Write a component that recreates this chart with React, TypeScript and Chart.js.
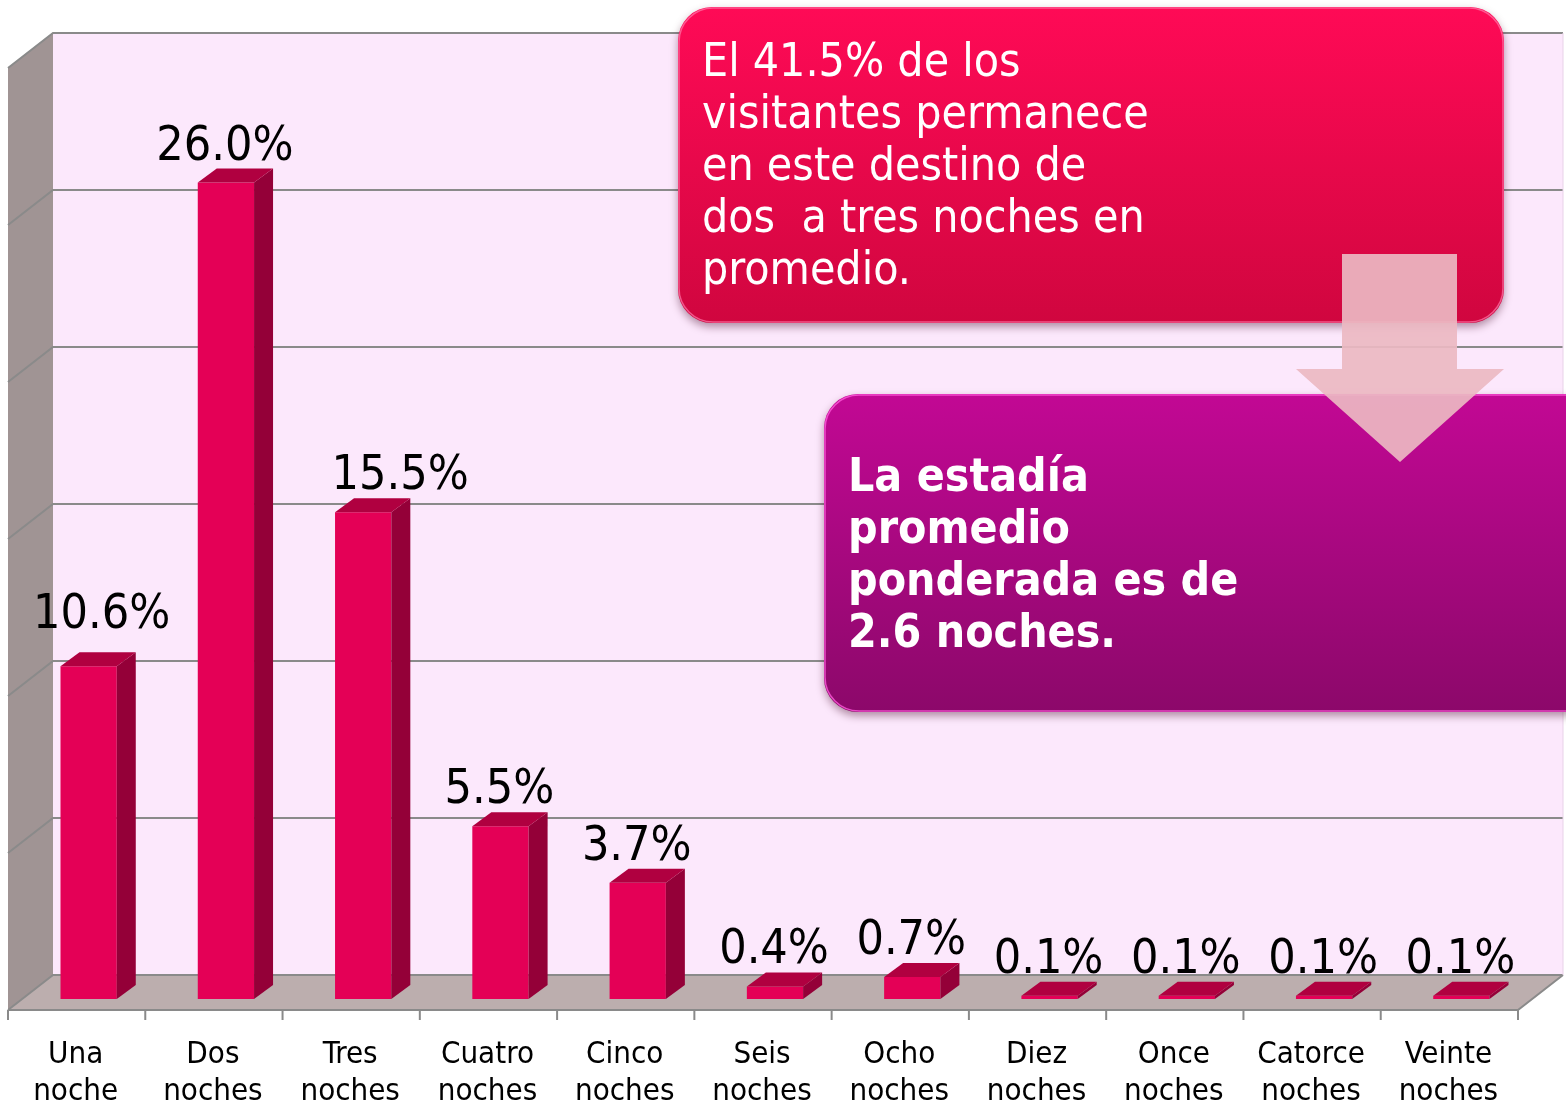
import { useEffect, useRef } from "react";
import { Chart, registerables } from "chart.js";

Chart.register(...registerables);

// ---- data ----
const categories: string[][] = [
  ["Una", "noche"],
  ["Dos", "noches"],
  ["Tres", "noches"],
  ["Cuatro", "noches"],
  ["Cinco", "noches"],
  ["Seis", "noches"],
  ["Ocho", "noches"],
  ["Diez", "noches"],
  ["Once", "noches"],
  ["Catorce", "noches"],
  ["Veinte", "noches"],
];
const shares = [10.6, 26.0, 15.5, 5.5, 3.7, 0.4, 0.7, 0.1, 0.1, 0.1, 0.1];
const gridValues = [0, 5, 10, 15, 20, 25, 30];
const callout1Lines = [
  "El 41.5% de los",
  "visitantes permanece",
  "en este destino de",
  "dos  a tres noches en",
  "promedio.",
];
const callout2Lines = ["La estadía", "promedio", "ponderada es de", "2.6 noches."];

// ---- styling / geometry (not data) ----
const FONT = "'DejaVu Sans Condensed', 'DejaVu Sans', sans-serif";
const BACK = { dx: 33, dy: -24 };
const FRONT = { dx: -12, dy: 11 };
const BAR_D = { dx: 19, dy: -14 };
const LABEL_NUDGE: number[][] = [
  [14, -15], [0, 0], [38, 0], [0, 0], [0, 0], [0, 0], [0, 0], [0, 0], [0, 0], [0, 0], [0, 0],
];

function poly(ctx: CanvasRenderingContext2D, pts: number[][], fill: string) {
  ctx.beginPath();
  pts.forEach(([x, y], i) => (i ? ctx.lineTo(x, y) : ctx.moveTo(x, y)));
  ctx.closePath();
  ctx.fillStyle = fill;
  ctx.fill();
}

function callout(
  ctx: CanvasRenderingContext2D,
  x: number, y: number, w: number, h: number, r: number,
  c1: string, c2: string, hi: string,
  lines: string[], font: string, tx: number, ty: number, lh: number
) {
  ctx.save();
  ctx.shadowColor = "rgba(60,0,30,0.4)";
  ctx.shadowBlur = 9;
  ctx.shadowOffsetY = 4;
  const g = ctx.createLinearGradient(0, y, 0, y + h);
  g.addColorStop(0, c1);
  g.addColorStop(1, c2);
  ctx.fillStyle = g;
  ctx.beginPath();
  ctx.roundRect(x, y, w, h, r);
  ctx.fill();
  ctx.restore();
  ctx.save();
  ctx.beginPath();
  ctx.roundRect(x + 1, y + 1, w - 2, h - 2, r);
  ctx.strokeStyle = hi;
  ctx.lineWidth = 1.5;
  ctx.stroke();
  ctx.fillStyle = "#ffffff";
  ctx.font = font;
  ctx.textAlign = "left";
  ctx.textBaseline = "alphabetic";
  lines.forEach((t, i) => ctx.fillText(t, tx, ty + i * lh));
  ctx.restore();
}

const scenePlugin = {
  id: "scene3d",
  beforeDatasetsDraw(chart: any) {
    const { ctx, chartArea: a } = chart;
    const y = chart.scales.y;
    const base = y.getPixelForValue(0);
    const top = y.getPixelForValue(gridValues[gridValues.length - 1]);
    const fl = a.left + FRONT.dx, fr = a.right + FRONT.dx;
    const bl = a.left + BACK.dx, br = a.right + BACK.dx;
    ctx.save();
    ctx.fillStyle = "#fce8fc";
    ctx.fillRect(bl, top + BACK.dy, br - bl, base - top);
    poly(ctx, [[fl, base + FRONT.dy], [bl, base + BACK.dy], [bl, top + BACK.dy], [fl, top + FRONT.dy]], "#a09494");
    poly(ctx, [[fl, base + FRONT.dy], [fr, base + FRONT.dy], [br, base + BACK.dy], [bl, base + BACK.dy]], "#bcaeae");
    ctx.strokeStyle = "#8a8a8a";
    ctx.lineWidth = 2;
    gridValues.forEach((v) => {
      const p = y.getPixelForValue(v);
      ctx.beginPath();
      ctx.moveTo(fl, p + FRONT.dy);
      ctx.lineTo(bl, p + BACK.dy);
      ctx.lineTo(br, p + BACK.dy);
      ctx.stroke();
    });
    ctx.beginPath();
    ctx.moveTo(fl, base + FRONT.dy);
    ctx.lineTo(fr, base + FRONT.dy);
    ctx.lineTo(br, base + BACK.dy);
    ctx.stroke();
    ctx.strokeStyle = "#e9d2e9";
    ctx.lineWidth = 1;
    ctx.beginPath();
    ctx.moveTo(br, base + BACK.dy);
    ctx.lineTo(br, top + BACK.dy);
    ctx.stroke();
    const n = categories.length;
    ctx.strokeStyle = "#8a8a8a";
    ctx.lineWidth = 2;
    for (let i = 0; i <= n; i++) {
      const x = fl + ((fr - fl) * i) / n;
      ctx.beginPath();
      ctx.moveTo(x, base + FRONT.dy);
      ctx.lineTo(x, base + FRONT.dy + 10);
      ctx.stroke();
    }
    ctx.restore();
  },
  afterDatasetsDraw(chart: any) {
    const { ctx } = chart;
    const meta = chart.getDatasetMeta(0);
    ctx.save();
    meta.data.forEach((bar: any) => {
      const { x, y, base, width } = bar.getProps(["x", "y", "base", "width"], true);
      const l = x - width / 2, r = x + width / 2;
      poly(ctx, [[r, y], [r + BAR_D.dx, y + BAR_D.dy], [r + BAR_D.dx, base + BAR_D.dy], [r, base]], "#940038");
      poly(ctx, [[l, y], [l + BAR_D.dx, y + BAR_D.dy], [r + BAR_D.dx, y + BAR_D.dy], [r, y]], "#b00040");
    });
    ctx.fillStyle = "#000000";
    ctx.font = `48px ${FONT}`;
    ctx.textAlign = "center";
    ctx.textBaseline = "alphabetic";
    meta.data.forEach((bar: any, i: number) => {
      const { x, y } = bar.getProps(["x", "y"], true);
      const [nx, ny] = LABEL_NUDGE[i];
      ctx.fillText(`${shares[i].toFixed(1)}%`, x - 1 + nx, y + BAR_D.dy - 9 + ny);
    });
    ctx.restore();
  },
  afterDraw(chart: any) {
    const { ctx } = chart;
    callout(ctx, 678, 7, 826, 316, 34, "#ff0a56", "#d0063f", "rgba(255,120,170,0.7)",
      callout1Lines, `46px ${FONT}`, 702, 76, 52);
    callout(ctx, 824, 394, 800, 318, 34, "#c20894", "#8c086a", "rgba(255,90,220,0.8)",
      callout2Lines, `bold 46px ${FONT}`, 848, 491, 52);
    ctx.save();
    poly(ctx, [[1342, 254], [1457, 254], [1457, 369], [1504, 369], [1400, 462], [1296, 369], [1342, 369]],
      "rgba(236,184,194,0.92)");
    ctx.restore();
  },
};

export default function App() {
  const ref = useRef<HTMLCanvasElement>(null);
  useEffect(() => {
    const chart = new Chart(ref.current!, {
      type: "bar",
      data: {
        labels: categories,
        datasets: [
          {
            data: shares,
            backgroundColor: "#e40056",
            borderWidth: 0,
            barPercentage: 0.41,
            categoryPercentage: 1,
          },
        ],
      },
      options: {
        animation: false,
        responsive: false,
        layout: { padding: { left: 20, right: 36, top: 57, bottom: 0 } },
        plugins: { legend: { display: false }, tooltip: { enabled: false } },
        scales: {
          x: {
            grid: { display: false, drawTicks: false },
            border: { display: false },
            ticks: {
              autoSkip: false,
              maxRotation: 0,
              minRotation: 0,
              padding: 37,
              labelOffset: -13,
              color: "#000000",
              font: { family: FONT, size: 31, lineHeight: 1.2 },
            },
            afterFit: (s: any) => {
              s.height = 111;
            },
          },
          y: { display: false, min: 0, max: 30 },
        },
      },
      plugins: [scenePlugin],
    } as any);
    return () => chart.destroy();
  }, []);
  return (
    <div style={{ position: "absolute", left: 0, top: 0, width: 1566, height: 1110, background: "#ffffff" }}>
      <canvas ref={ref} width={1566} height={1110} style={{ display: "block" }} />
    </div>
  );
}
